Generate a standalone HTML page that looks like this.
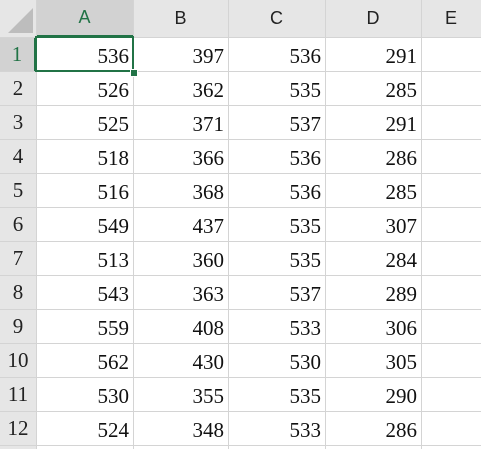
<!DOCTYPE html>
<html><head><meta charset="utf-8"><style>
body{margin:0;width:481px;height:449px;overflow:hidden;background:#fff;position:relative;font-family:"Liberation Serif",serif}
.h{position:absolute;background:#e6e6e6;color:#222;font-family:"Liberation Sans",sans-serif;font-size:18px;display:flex;align-items:center;justify-content:center;box-sizing:border-box}
.c{position:absolute;box-sizing:border-box;text-align:right;padding-right:4px;font-size:21px;color:#111;line-height:34px}
.vl{position:absolute;top:0;width:1px;height:449px;background:#d4d4d4}
.hl{position:absolute;left:0;height:1px;width:481px;background:#d4d4d4}
</style></head><body>
<div id="grid"></div>
<script>
const colLabels=["A","B","C","D","E"];
const colX=[36,133,228,325,421,481];
const rowH=34, top0=37;
const dataA=[536,526,525,518,516,549,513,543,559,562,530,524];
const dataB=[397,362,371,366,368,437,360,363,408,430,355,348];
const dataC=[536,535,537,536,536,535,535,537,533,530,535,533];
const dataD=[291,285,291,286,285,307,284,289,306,305,290,286];
const cols=[dataA,dataB,dataC,dataD];
const g=document.getElementById('grid');
function add(el){g.appendChild(el);return el;}
// header background
let hb=document.createElement('div');hb.className='h';hb.style.cssText='left:0;top:0;width:481px;height:37px';

add(hb);
let rb=document.createElement('div');rb.className='h';rb.style.cssText='left:0;top:0;width:36px;height:449px';

add(rb);
let corner=document.createElement('div');corner.style.cssText='position:absolute;left:8px;top:8px;width:0;height:0;border-left:25px solid transparent;border-bottom:25px solid #bdbdbd';

add(corner);
for(let i=0;i<5;i++){
  let d=document.createElement('div');d.className='h';
  d.style.left=colX[i]+'px';d.style.top='0px';d.style.width=(colX[i+1]-colX[i])+'px';d.style.height='37px';
  if(i==0){d.style.background='#d2d2d2';d.style.color='#217346';d.style.borderBottom='2px solid #217346';}
  d.textContent=colLabels[i];
  
  add(d);
}
for(let r=0;r<12;r++){
  let d=document.createElement('div');d.className='h';
  d.style.cssText+='left:0;top:'+(top0+r*rowH)+'px;width:36px;height:'+rowH+'px;font-family:"Liberation Serif",serif;font-size:21px;';
  if(r==0){d.style.background='#d2d2d2';d.style.color='#217346';d.style.borderRight='2px solid #217346';}
  d.textContent=r+1;
  
  add(d);
}
for(let i=0;i<=5;i++){let l=document.createElement('div');l.className='vl';l.style.left=colX[i]+'px';
  if(i==5)continue;
  
  add(l);}
for(let r=0;r<=12;r++){let l=document.createElement('div');l.className='hl';l.style.top=(top0+r*rowH)+'px';
  
  add(l);}
for(let c=0;c<4;c++)for(let r=0;r<12;r++){
  let d=document.createElement('div');d.className='c';
  d.style.left=colX[c]+'px';d.style.top=(top0+r*rowH+2)+'px';d.style.width=(colX[c+1]-colX[c])+'px';d.style.height=rowH+'px';
  d.textContent=cols[c][r];
  
  add(d);
}
let sel=document.createElement('div');sel.style.cssText='position:absolute;left:35px;top:36px;width:99px;height:36px;border:2px solid #217346;box-sizing:border-box';

add(sel);
let hnd=document.createElement('div');hnd.style.cssText='position:absolute;left:130px;top:69px;width:6px;height:6px;background:#217346;border:1px solid #fff';

add(hnd);
</script>
</body></html>
